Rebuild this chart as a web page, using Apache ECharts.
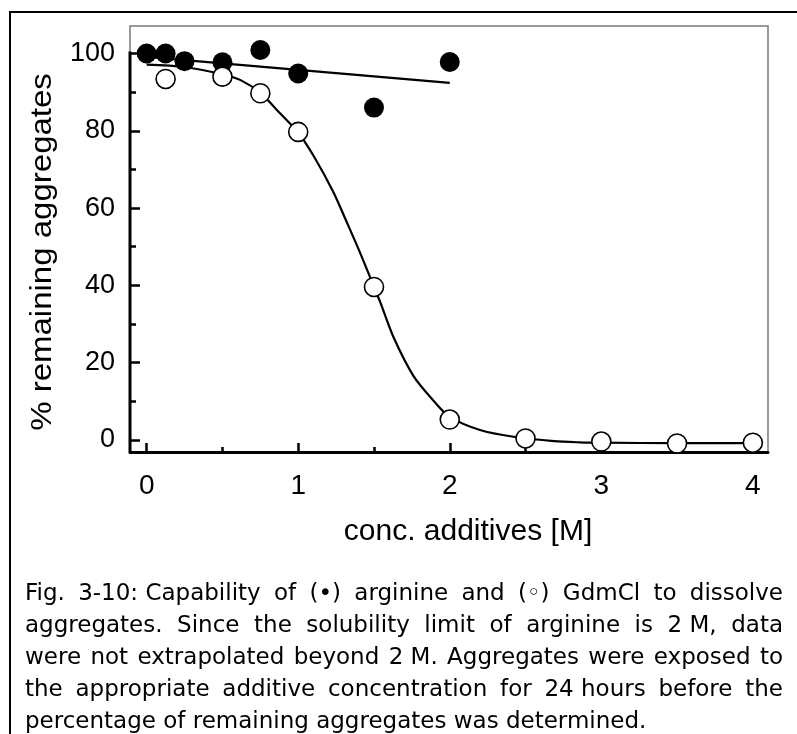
<!DOCTYPE html>
<html>
<head>
<meta charset="utf-8">
<script src="https://cdn.jsdelivr.net/npm/echarts@6/dist/echarts.min.js"></script>
<style>
  html, body { margin: 0; padding: 0; background: #fff; }
  #chart { width: 797px; height: 734px; }
</style>
</head>
<body>
<div id="chart"></div>
<script>
// Axis ranges and ticks
const X_MIN = -0.11, X_MAX = 4.1;
const Y_MIN = -3.1, Y_MAX = 107.1;
const X_TICKS = [0, 1, 2, 3, 4];
const X_MINOR = [0.5, 1.5, 2.5, 3.5];
const Y_TICKS = [0, 20, 40, 60, 80, 100];
const Y_MINOR = [10, 30, 50, 70, 90];

// Arginine (filled circles)
const ARG_X = [0, 0.125, 0.25, 0.5, 0.75, 1.0, 1.5, 2.0];
const ARG_Y = [100, 100, 98.0, 97.7, 100.9, 94.8, 86.0, 97.8];
// Linear fit for arginine
const ARG_FIT_X = [0, 2];
const ARG_FIT_Y = [99.1, 92.4];

// GdmCl (open circles)
const GDM_X = [0.125, 0.5, 0.75, 1.0, 1.5, 2.0, 2.5, 3.0, 3.5, 4.0];
const GDM_Y = [93.4, 94.0, 89.7, 79.7, 39.6, 5.3, 0.4, -0.4, -0.9, -0.7];
// Sigmoidal fit for GdmCl
const GDM_FIT_X = [0, 0.25, 0.5, 0.62, 0.75, 0.88, 1.0, 1.1, 1.23, 1.32, 1.41, 1.5, 1.54, 1.63, 1.76, 1.89, 2.0, 2.2, 2.42, 2.69, 2.86, 3.0, 3.5, 4.0];
const GDM_FIT_Y = [97.1, 96.5, 94.6, 93.1, 89.8, 84.5, 79.5, 73.6, 64.3, 56.4, 48.3, 39.6, 35.8, 26.5, 16.6, 10.3, 6.0, 2.6, 0.85, -0.3, -0.6, -0.7, -0.8, -0.8];

// Texts
const X_TITLE = 'conc. additives [M]';
const Y_TITLE = '% remaining aggregates';
const CAPTION = [
  'Fig. 3-10:\u00a0Capability of (\u2022) arginine and (\u25e6) GdmCl to dissolve',
  'aggregates. Since the solubility limit of arginine is 2\u00a0M, data',
  'were not extrapolated beyond 2\u00a0M. Aggregates were exposed to',
  'the appropriate additive concentration for 24\u00a0hours before the',
  'percentage of remaining aggregates was determined.'
];

const zip = (xs, ys) => xs.map((x, i) => [x, ys[i]]);

const AXIS_FONT = '"Liberation Sans", Arial, sans-serif';
const CAP_FONT = '23px "DejaVu Sans", sans-serif';

// Justified caption: each word placed so that lines fill the block width
function captionElements() {
  const left = 25, right = 783, top = 594, lineGap = 32;
  const ctx = document.createElement('canvas').getContext('2d');
  ctx.font = CAP_FONT;
  const els = [];
  CAPTION.forEach((line, li) => {
    const words = line.split(' ');
    const widths = words.map(w => ctx.measureText(w).width);
    const total = widths.reduce((a, b) => a + b, 0);
    const last = li === CAPTION.length - 1;
    const gap = last ? ctx.measureText(' ').width : (right - left - total) / (words.length - 1);
    let x = left;
    const y = top + li * lineGap;
    words.forEach((w, wi) => {
      els.push({
        type: 'text', silent: true,
        style: { text: w, x: x, y: y, font: CAP_FONT, fill: '#000',
                 align: 'left', textAlign: 'left', verticalAlign: 'middle', textVerticalAlign: 'middle' }
      });
      x += widths[wi] + gap;
    });
  });
  return els;
}

const chart = echarts.init(document.getElementById('chart'), null, { renderer: 'canvas' });

const tickStyle = { color: '#000', width: 2.5 };

const option = {
  animation: false,
  backgroundColor: '#fff',
  grid: {
    left: 130, right: 29, top: 26, bottom: 282,
    show: true, borderColor: '#7a7a7a', borderWidth: 1.5, backgroundColor: 'transparent'
  },
  xAxis: [
    {
      type: 'value', min: X_MIN, max: X_MAX, position: 'bottom',
      axisLine: { show: true, onZero: false, lineStyle: { color: '#000', width: 3 } },
      axisTick: { show: true, inside: true, length: 9, customValues: X_TICKS, lineStyle: tickStyle },
      axisLabel: { show: true, customValues: X_TICKS, margin: 20, color: '#000', fontSize: 28, fontFamily: AXIS_FONT,
                   formatter: v => String(v) },
      splitLine: { show: false }
    },
    {
      type: 'value', min: X_MIN, max: X_MAX, position: 'bottom',
      axisLine: { show: false, onZero: false },
      axisTick: { show: true, inside: true, length: 5, customValues: X_MINOR, lineStyle: tickStyle },
      axisLabel: { show: false },
      splitLine: { show: false }
    }
  ],
  yAxis: [
    {
      type: 'value', min: Y_MIN, max: Y_MAX, position: 'left',
      axisLine: { show: false, onZero: false },
      axisTick: { show: true, inside: true, length: 10, customValues: Y_TICKS, lineStyle: tickStyle },
      axisLabel: { show: true, customValues: Y_TICKS, margin: 15, color: '#000', fontSize: 27, fontFamily: AXIS_FONT,
                   formatter: v => String(v) },
      splitLine: { show: false }
    },
    {
      type: 'value', min: Y_MIN, max: Y_MAX, position: 'left',
      axisLine: { show: false, onZero: false },
      axisTick: { show: true, inside: true, length: 6, customValues: Y_MINOR, lineStyle: tickStyle },
      axisLabel: { show: false },
      splitLine: { show: false }
    }
  ],
  series: [
    {
      // thick left axis segment, running from the floor up to just above 100 %
      type: 'line', silent: true, clip: false, symbol: 'none', z: 4,
      data: [[X_MIN, Y_MIN], [X_MIN, 100.5]],
      lineStyle: { color: '#000', width: 3 }
    },
    {
      name: 'arginine fit', type: 'line', symbol: 'none', z: 2,
      data: zip(ARG_FIT_X, ARG_FIT_Y),
      lineStyle: { color: '#000', width: 2.2 }
    },
    {
      name: 'GdmCl fit', type: 'line', symbol: 'none', smooth: 0.3, z: 2,
      data: zip(GDM_FIT_X, GDM_FIT_Y),
      lineStyle: { color: '#000', width: 2.2 }
    },
    {
      name: 'arginine', type: 'scatter', symbol: 'circle', symbolSize: 20, z: 5,
      data: zip(ARG_X, ARG_Y),
      itemStyle: { color: '#000', borderColor: '#000', borderWidth: 0, opacity: 1 }
    },
    {
      name: 'GdmCl', type: 'scatter', symbol: 'circle', symbolSize: 19, z: 6,
      data: zip(GDM_X, GDM_Y),
      itemStyle: { color: '#fff', borderColor: '#000', borderWidth: 1.6, opacity: 1 }
    }
  ],
  graphic: [
    {
      // outer figure frame
      type: 'rect', silent: true,
      shape: { x: 10, y: 12, width: 800, height: 740 },
      style: { fill: 'none', stroke: '#000', lineWidth: 2 }
    },
    {
      type: 'text', silent: true, x: 468, y: 532,
      style: { text: X_TITLE, font: '30px ' + AXIS_FONT, fill: '#000',
               align: 'center', textAlign: 'center', verticalAlign: 'middle', textVerticalAlign: 'middle' }
    },
    {
      type: 'text', silent: true, x: 43, y: 252, rotation: Math.PI / 2, scaleX: 1.1,
      style: { text: Y_TITLE, font: '30px ' + AXIS_FONT, fill: '#000',
               align: 'center', textAlign: 'center', verticalAlign: 'middle', textVerticalAlign: 'middle' }
    }
  ].concat(captionElements())
};

chart.setOption(option);
</script>
</body>
</html>
